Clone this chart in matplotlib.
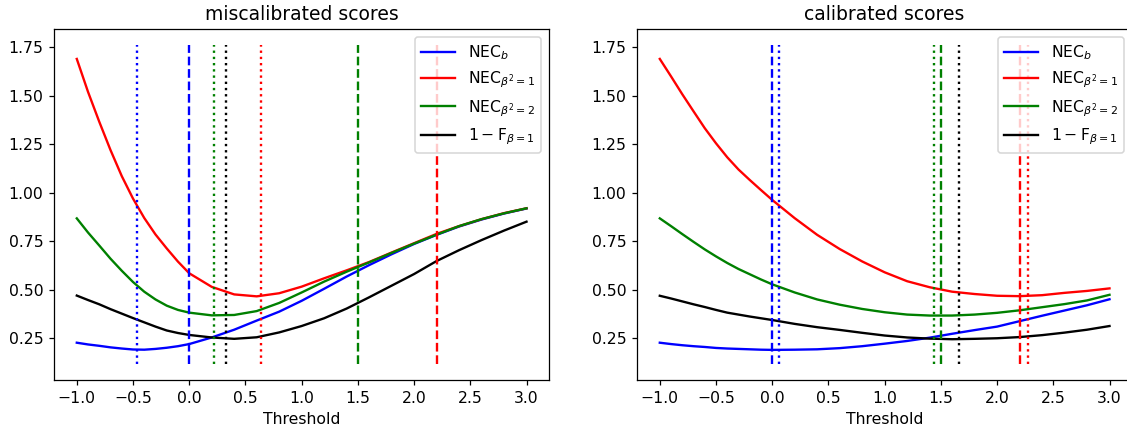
import numpy as np
import matplotlib
matplotlib.use("Agg")
import matplotlib.pyplot as plt

thresholds = [-1.0, -0.9, -0.8, -0.7, -0.6, -0.5, -0.4, -0.3, -0.2, -0.1, 0.0,
              0.2, 0.4, 0.6, 0.8, 1.0, 1.2, 1.4, 1.6, 1.8, 2.0, 2.2, 2.4, 2.6, 2.8, 3.0]

# miscalibrated scores
mis_nec_b = [0.227, 0.218, 0.211, 0.203, 0.197, 0.192, 0.191, 0.195, 0.201, 0.209, 0.220,
             0.254, 0.294, 0.341, 0.387, 0.443, 0.505, 0.568, 0.627, 0.683, 0.736, 0.783,
             0.826, 0.862, 0.893, 0.919]
mis_nec_1 = [1.690, 1.520, 1.366, 1.220, 1.086, 0.970, 0.870, 0.785, 0.713, 0.645, 0.585,
             0.515, 0.476, 0.466, 0.482, 0.516, 0.559, 0.600, 0.643, 0.692, 0.740, 0.788,
             0.828, 0.864, 0.895, 0.920]
mis_nec_2 = [0.868, 0.795, 0.728, 0.660, 0.598, 0.540, 0.490, 0.450, 0.418, 0.396, 0.382,
             0.368, 0.370, 0.390, 0.432, 0.486, 0.542, 0.593, 0.641, 0.690, 0.738, 0.784,
             0.828, 0.864, 0.894, 0.920]
mis_f1 = [0.470, 0.447, 0.425, 0.400, 0.377, 0.354, 0.332, 0.310, 0.290, 0.277, 0.267,
          0.254, 0.247, 0.255, 0.280, 0.313, 0.353, 0.403, 0.461, 0.521, 0.581, 0.648,
          0.704, 0.756, 0.805, 0.851]

# calibrated scores
cal_nec_b = [0.227, 0.220, 0.214, 0.209, 0.205, 0.200, 0.197, 0.195, 0.193, 0.191, 0.190,
             0.191, 0.193, 0.199, 0.209, 0.222, 0.236, 0.253, 0.273, 0.292, 0.310, 0.338,
             0.366, 0.393, 0.420, 0.451]
cal_nec_1 = [1.690, 1.600, 1.508, 1.420, 1.333, 1.255, 1.183, 1.120, 1.066, 1.014, 0.963,
             0.869, 0.783, 0.710, 0.646, 0.590, 0.544, 0.513, 0.490, 0.478, 0.469, 0.467,
             0.472, 0.484, 0.494, 0.507]
cal_nec_2 = [0.868, 0.828, 0.787, 0.747, 0.708, 0.672, 0.638, 0.607, 0.580, 0.553, 0.528,
             0.486, 0.450, 0.423, 0.401, 0.384, 0.372, 0.367, 0.367, 0.372, 0.381, 0.394,
             0.410, 0.426, 0.445, 0.474]
cal_f1 = [0.469, 0.455, 0.440, 0.425, 0.411, 0.396, 0.382, 0.372, 0.362, 0.353, 0.344,
          0.324, 0.307, 0.293, 0.278, 0.264, 0.254, 0.248, 0.245, 0.247, 0.250, 0.256,
          0.266, 0.279, 0.294, 0.313]

# theoretical (dashed) optimal thresholds: NEC_b, NEC_b2=1, NEC_b2=2
theory_thr = [0.0, 2.2, 1.5]
# empirical (dotted) minima: NEC_b, NEC_b2=1, NEC_b2=2, 1-F
mis_min_thr = [-0.467, 0.636, 0.221, 0.330]
cal_min_thr = [0.062, 2.274, 1.440, 1.658]

vline_lo, vline_hi = 0.117, 1.762

titles = ["miscalibrated scores", "calibrated scores"]
labels = [r"NEC$_b$", r"NEC$_{\beta^2=1}$", r"NEC$_{\beta^2=2}$", r"$1-\mathrm{F}_{\beta=1}$"]
colors = ["blue", "red", "green", "black"]

fig = plt.figure(figsize=(10, 427 / 112.7), dpi=112.7)
ax1 = fig.add_axes([54.3 / 1127, 47 / 427, 494.7 / 1127, 351 / 427])
ax2 = fig.add_axes([637.3 / 1127, 47 / 427, 494.7 / 1127, 351 / 427])

datasets = [
    (ax1, [mis_nec_b, mis_nec_1, mis_nec_2, mis_f1], mis_min_thr),
    (ax2, [cal_nec_b, cal_nec_1, cal_nec_2, cal_f1], cal_min_thr),
]

for (ax, curves, mins), title in zip(datasets, titles):
    for y, lab, c in zip(curves, labels, colors):
        ax.plot(thresholds, y, color=c, label=lab)
    for x, c in zip(theory_thr, colors[:3]):
        ax.vlines(x, vline_lo, vline_hi, colors=c, linestyles="--")
    for x, c in zip(mins, colors):
        ax.vlines(x, vline_lo, vline_hi, colors=c, linestyles=":")
    ax.set_title(title)
    ax.set_xlabel("Threshold")
    ax.set_xticks([-1.0, -0.5, 0.0, 0.5, 1.0, 1.5, 2.0, 2.5, 3.0])
    ax.set_yticks([0.25, 0.50, 0.75, 1.00, 1.25, 1.50, 1.75])
    ax.legend(loc="upper right", handlelength=2.2)

fig.savefig("out.png", dpi=112.7)
